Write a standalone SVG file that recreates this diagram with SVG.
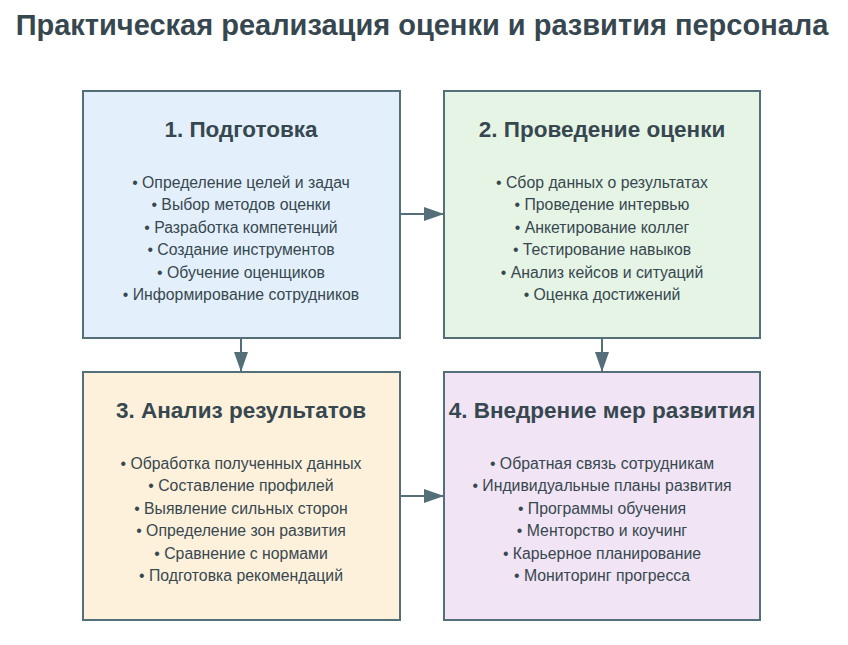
<svg xmlns="http://www.w3.org/2000/svg" width="848" height="645" viewBox="0 0 848 645">
<style>
text{font-family:"Liberation Sans",Arial,sans-serif;fill:#37474f;text-anchor:middle}
.t{font-size:29px;font-weight:bold}
.h{font-size:22.5px;font-weight:bold}
.i{font-size:15.8px}
.b{stroke:#546e7a;stroke-width:2}
.c{stroke:#546e7a;stroke-width:2;fill:none;marker-end:url(#a)}
</style>
<defs><marker id="a" markerWidth="20" markerHeight="14" refX="19" refY="7" orient="auto" markerUnits="userSpaceOnUse"><path d="M0,0L20,7L0,14Z" fill="#546e7a"/></marker></defs>
<rect width="848" height="645" fill="#fff"/>
<text class="t" x="422" y="35">Практическая реализация оценки и развития персонала</text>
<g id="n1"><rect class="b" x="83" y="91" width="317" height="247" fill="#e3f0fb"/>
<text class="h" x="241" y="137">1. Подготовка</text>
<text class="i" x="241" y="188">• Определение целей и задач</text><text class="i" x="241" y="210">• Выбор методов оценки</text><text class="i" x="241" y="233">• Разработка компетенций</text><text class="i" x="241" y="255">• Создание инструментов</text><text class="i" x="241" y="278">• Обучение оценщиков</text><text class="i" x="241" y="300">• Информирование сотрудников</text></g>
<g id="n2"><rect class="b" x="444" y="91" width="316" height="247" fill="#e6f4e6"/>
<text class="h" x="602" y="137">2. Проведение оценки</text>
<text class="i" x="602" y="188">• Сбор данных о результатах</text><text class="i" x="602" y="210">• Проведение интервью</text><text class="i" x="602" y="233">• Анкетирование коллег</text><text class="i" x="602" y="255">• Тестирование навыков</text><text class="i" x="602" y="278">• Анализ кейсов и ситуаций</text><text class="i" x="602" y="300">• Оценка достижений</text></g>
<g id="n3"><rect class="b" x="83" y="372" width="317" height="248" fill="#fdf1dc"/>
<text class="h" x="241" y="418">3. Анализ результатов</text>
<text class="i" x="241" y="469">• Обработка полученных данных</text><text class="i" x="241" y="491">• Составление профилей</text><text class="i" x="241" y="514">• Выявление сильных сторон</text><text class="i" x="241" y="536">• Определение зон развития</text><text class="i" x="241" y="559">• Сравнение с нормами</text><text class="i" x="241" y="581">• Подготовка рекомендаций</text></g>
<g id="n4"><rect class="b" x="444" y="372" width="316" height="248" fill="#f1e4f4"/>
<text class="h" x="602" y="418">4. Внедрение мер развития</text>
<text class="i" x="602" y="469">• Обратная связь сотрудникам</text><text class="i" x="602" y="491">• Индивидуальные планы развития</text><text class="i" x="602" y="514">• Программы обучения</text><text class="i" x="602" y="536">• Менторство и коучинг</text><text class="i" x="602" y="559">• Карьерное планирование</text><text class="i" x="602" y="581">• Мониторинг прогресса</text></g>
<g id="connectors">
<path class="c" d="M400,214H443"/><path class="c" d="M241,338V371"/><path class="c" d="M602,338V371"/><path class="c" d="M400,496H443"/>
</g>
</svg>
